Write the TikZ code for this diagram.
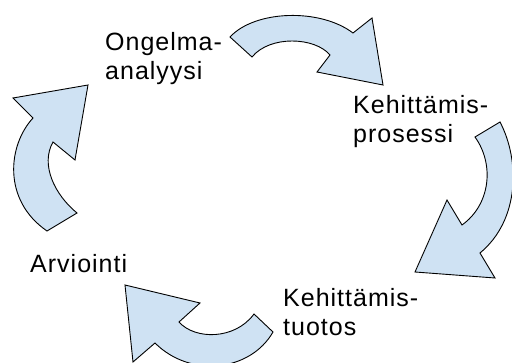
\documentclass[tikz,border=0pt]{standalone}
\usepackage{fontspec}
\newfontfamily\stagefont{Liberation Sans}[LetterSpace=4]
\usetikzlibrary{positioning}

\definecolor{arrowblue}{HTML}{CFE2F3}

\begin{document}
\begin{tikzpicture}[
    x=1pt, y=-1pt,
    stage/.style={anchor=north west, align=left, inner sep=0pt, font=\stagefont\fontsize{25}{29}\selectfont},
    bigarrow/.style={draw=black, fill=arrowblue, line width=0.9pt, line join=miter}
  ]
  \useasboundingbox (0,0) rectangle (512,363);
  \clip (0,0) rectangle (512,363);

  \node[stage] (analysis) at (105,32) {Ongelma-\\analyysi};
  \node[stage] (process) at (353,95) {Kehittämis-\\prosessi};
  \node[stage] (evaluation) at (30,254) {Arviointi};
  \node[stage] (product) at (283,288.5) {Kehittämis-\\tuotos};

  % top arrow
  \filldraw[bigarrow] (230,37) .. controls (255,10) and (320,8) .. (353,33)
    -- (372,18) -- (383,85) -- (317,72) -- (330,55)
    .. controls (315,37) and (270,35) .. (252,57) -- cycle;

  % right arrow
  \filldraw[bigarrow] (500,122) .. controls (520,160) and (520,220) .. (480,253)
    -- (495,278) -- (415,272) -- (447,200) -- (462,225)
    .. controls (490,205) and (495,165) .. (475,137) -- cycle;

  % bottom arrow
  \filldraw[bigarrow] (273,332) .. controls (250,372) and (190,378) .. (155,343)
    -- (133,362) -- (125,285) -- (200,303) -- (179,322)
    .. controls (195,340) and (235,340) .. (254,314) -- cycle;

  % left arrow
  \filldraw[bigarrow] (47,231) .. controls (2,200) and (8,145) .. (33,118)
    -- (13,98) -- (88,85) -- (75,160) -- (53,142)
    .. controls (40,165) and (55,195) .. (77,213) -- cycle;
\end{tikzpicture}
\end{document}
